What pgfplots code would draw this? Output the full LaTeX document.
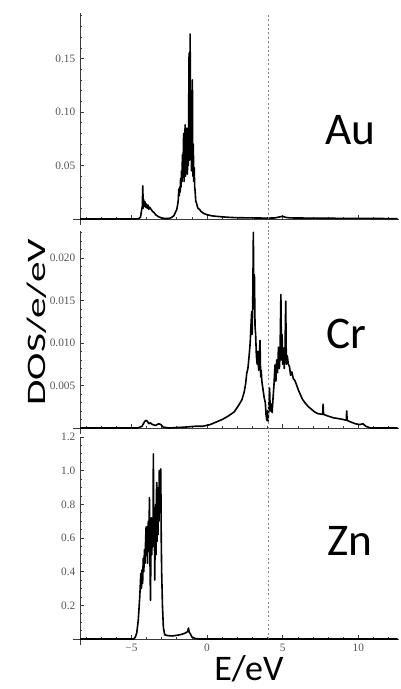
\documentclass[border=0pt]{standalone}
\usepackage{fontspec}
\setmainfont{Carlito}
\newfontfamily\tickfont{Liberation Serif}
\usepackage{graphicx}
\usepackage{pgfplots}
\pgfplotsset{compat=1.18}

\definecolor{axisgray}{HTML}{3A3A3A}
\definecolor{tickgray}{HTML}{555555}
\definecolor{fermigray}{HTML}{858585}

\pgfplotsset{
  dospanel/.style={
    scale only axis, width=239.4pt,
    xmin=-8.4, xmax=12.7, ymin=0,
    axis x line*=bottom, axis y line*=left,
    axis line style={axisgray, line width=0.6pt, -},
    x axis line style={shorten <=-5pt},
    y axis line style={shorten <=-4.5pt},
    tick align=inside, major tick length=3pt, minor tick length=1.8pt,
    tick style={axisgray, line width=0.5pt},
    xtick={-5,0,5,10}, minor xtick={-8,-7,...,12},
    scaled y ticks=false,
    tick label style={font=\tickfont\fontsize{8.5}{10}\selectfont, text=tickgray},
    clip=false,
  },
  dos/.style={black, line width=1.2pt, line join=round},
}
\tikzset{
  elem/.style={font=\fontsize{34}{34}\selectfont, inner sep=0pt},
  fermi/.style={fermigray, line width=1pt, dash pattern=on 1.4pt off 1.9pt},
}

\begin{document}
\begin{tikzpicture}
\useasboundingbox (0,0) rectangle (300pt,516.75pt);

% Au
\begin{axis}[dospanel, at={(60pt,352.5pt)}, anchor=south west, height=154.5pt,
  ymax=0.1926, xticklabels={},
  ytick={0.05,0.10,0.15}, yticklabels={0.05,0.10,0.15},
  minor ytick={0.01,0.02,0.03,0.04,0.06,0.07,0.08,0.09,0.11,0.12,0.13,0.14,0.16,0.17,0.18,0.19}]
\addplot[dos] coordinates {
(-8.4,0) (-5,0) (-4.5,0.0003) (-4.4,0.002) (-4.33,0.008) (-4.28,0.012) (-4.25,0.031)
(-4.22,0.010) (-4.19,0.018) (-4.15,0.012) (-4.1,0.016) (-4.05,0.011) (-4.0,0.014)
(-3.95,0.010) (-3.9,0.013) (-3.85,0.009) (-3.8,0.011) (-3.7,0.009) (-3.6,0.007)
(-3.5,0.006) (-3.4,0.004) (-3.3,0.003) (-3.2,0.002) (-3.0,0.001) (-2.8,0.0005)
(-2.6,0.0004) (-2.4,0.001) (-2.2,0.003) (-2.1,0.006) (-2.0,0.009) (-1.95,0.013)
(-1.9,0.018) (-1.87,0.028) (-1.84,0.022) (-1.81,0.030) (-1.78,0.025) (-1.75,0.038)
(-1.72,0.030) (-1.69,0.045) (-1.66,0.035) (-1.63,0.060) (-1.6,0.040) (-1.55,0.080)
(-1.52,0.035) (-1.48,0.070) (-1.45,0.088) (-1.42,0.040) (-1.39,0.062) (-1.36,0.045)
(-1.33,0.085) (-1.3,0.042) (-1.27,0.080) (-1.24,0.050) (-1.19,0.155) (-1.16,0.055)
(-1.12,0.173) (-1.09,0.060) (-1.06,0.110) (-1.03,0.045) (-0.97,0.130) (-0.94,0.040)
(-0.91,0.070) (-0.88,0.035) (-0.85,0.048) (-0.82,0.030) (-0.79,0.026) (-0.75,0.017)
(-0.7,0.015) (-0.65,0.012) (-0.6,0.010) (-0.5,0.009) (-0.4,0.007) (-0.3,0.006)
(-0.2,0.005) (0,0.004) (0.3,0.003) (0.6,0.0025) (1.0,0.002) (1.5,0.0015) (2.0,0.0012)
(3.0,0.001) (4.0,0.0008) (4.5,0.001) (4.8,0.002) (5.0,0.0025) (5.2,0.0015) (5.5,0.001)
(7,0.0008) (9,0.0006) (11,0.0005) (12.6,0.0003)
};
\draw[fermi] ([yshift=-10pt]axis cs:4.08,0) -- (axis cs:4.08,0.1926);
\node[elem] at (axis cs:9.45,0.0832) {Au};
\end{axis}

% Cr
\begin{axis}[dospanel, at={(60pt,195.75pt)}, anchor=south west, height=148pt,
  ymax=0.0232, xticklabels={},
  ytick={0.005,0.010,0.015,0.020}, yticklabels={0.005,0.010,0.015,0.020},
  minor ytick={0.001,0.002,0.003,0.004,0.006,0.007,0.008,0.009,0.011,0.012,0.013,0.014,0.016,0.017,0.018,0.019,0.021,0.022,0.023}]
\addplot[dos] coordinates {
(-8.4,0) (-4.6,0) (-4.3,0.0002) (-4.15,0.0007) (-4.05,0.0009) (-3.95,0.0008)
(-3.85,0.0005) (-3.75,0.0006) (-3.6,0.0004) (-3.4,0.0003) (-3.2,0.0005) (-3.05,0.0004)
(-2.9,0.0001) (-2.5,0) (-1.5,0.0001) (-0.8,0.0002) (-0.3,0.0002) (0.2,0.0004)
(0.6,0.0007) (1.0,0.001) (1.4,0.0014) (1.8,0.0019) (2.1,0.0027) (2.3,0.0033)
(2.45,0.0042) (2.55,0.0052) (2.62,0.0064) (2.7,0.0070) (2.78,0.0085) (2.85,0.0100)
(2.9,0.0120) (2.95,0.0137) (2.98,0.0110) (3.02,0.0150) (3.06,0.0230) (3.09,0.0140)
(3.13,0.0180) (3.17,0.0120) (3.21,0.0110) (3.26,0.0085) (3.31,0.0075) (3.36,0.0090)
(3.41,0.0068) (3.5,0.0103) (3.54,0.0060) (3.58,0.0068) (3.62,0.0055) (3.7,0.0045)
(3.78,0.0035) (3.85,0.0030) (3.9,0.0015) (3.95,0.0009) (3.99,0.0020) (4.03,0.0008)
(4.08,0.0025) (4.13,0.0047) (4.18,0.0020) (4.25,0.0028) (4.3,0.0018) (4.36,0.0035)
(4.42,0.0050) (4.49,0.0074) (4.55,0.0055) (4.6,0.0080) (4.66,0.0065) (4.72,0.0095)
(4.78,0.0070) (4.82,0.0085) (4.88,0.0157) (4.92,0.0080) (4.96,0.0110) (5.0,0.0075)
(5.05,0.0094) (5.1,0.0070) (5.15,0.0090) (5.2,0.0149) (5.24,0.0075) (5.3,0.0085)
(5.37,0.0075) (5.45,0.0072) (5.52,0.0062) (5.6,0.0066) (5.7,0.0058) (5.8,0.0056)
(5.93,0.0050) (6.05,0.0044) (6.15,0.0040) (6.3,0.0034) (6.5,0.0029) (6.7,0.0025)
(6.9,0.0022) (7.1,0.0019) (7.3,0.0017) (7.64,0.0016) (7.67,0.0028) (7.7,0.0016)
(8.0,0.0014) (8.35,0.0012) (8.7,0.0011) (9.0,0.0010) (9.2,0.0009) (9.23,0.0020)
(9.26,0.0009) (9.5,0.0007) (9.8,0.0005) (10.1,0.0004) (10.3,0.0005) (10.5,0.0002)
(10.8,0) (12.6,0)
};
\draw[fermi] ([yshift=-7pt]axis cs:4.08,0) -- (axis cs:4.08,0.0232);
\node[elem] at (axis cs:9.2,0.01105) {Cr};
\end{axis}

% Zn
\begin{axis}[dospanel, at={(60pt,37.5pt)}, anchor=south west, height=151.5pt,
  ymax=1.2, xticklabels={−5,0,5,10},
  ytick={0.2,0.4,0.6,0.8,1.0,1.2}, yticklabels={0.2,0.4,0.6,0.8,1.0,1.2},
  minor ytick={0.05,0.1,0.15,0.25,0.3,0.35,0.45,0.5,0.55,0.65,0.7,0.75,0.85,0.9,0.95,1.05,1.1,1.15}]
\addplot[dos] coordinates {
(-8.4,0) (-4.85,0) (-4.75,0.01) (-4.65,0.035) (-4.55,0.11) (-4.45,0.25) (-4.38,0.39)
(-4.34,0.30) (-4.3,0.41) (-4.26,0.33) (-4.22,0.48) (-4.18,0.40) (-4.14,0.53)
(-4.1,0.45) (-4.06,0.60) (-4.03,0.667) (-4.0,0.50) (-3.97,0.62) (-3.94,0.45)
(-3.91,0.66) (-3.88,0.70) (-3.85,0.52) (-3.81,0.84) (-3.78,0.50) (-3.74,0.23)
(-3.71,0.55) (-3.68,0.72) (-3.65,0.50) (-3.62,0.70) (-3.58,0.55) (-3.55,1.10)
(-3.52,0.55) (-3.49,0.78) (-3.46,0.35) (-3.43,0.60) (-3.4,0.80) (-3.37,0.50)
(-3.35,0.85) (-3.33,0.93) (-3.3,0.58) (-3.27,0.90) (-3.24,0.62) (-3.21,0.85)
(-3.18,0.70) (-3.16,1.0) (-3.13,0.75) (-3.1,0.95) (-3.06,1.01) (-3.03,0.60)
(-3.0,0.39) (-2.95,0.20) (-2.89,0.07) (-2.8,0.025) (-2.6,0.02) (-2.3,0.018)
(-2.0,0.022) (-1.8,0.025) (-1.6,0.03) (-1.45,0.035) (-1.35,0.04) (-1.28,0.045)
(-1.23,0.065) (-1.18,0.04) (-1.1,0.03) (-1.0,0.012) (-0.8,0.003) (-0.5,0) (12.6,0)
};
\draw[fermi] (axis cs:4.08,0) -- (axis cs:4.08,1.2);
\node[elem] at (axis cs:9.45,0.58) {Zn};
\end{axis}

\node[rotate=90, inner sep=0pt] at (27.4pt,275pt)
  {\scalebox{1.55}[1]{\fontsize{20}{20}\selectfont DOS/e/eV}};
\node[anchor=base, inner sep=0pt, font=\fontsize{27}{27}\selectfont] at (186.75pt,6pt) {E/eV};
\end{tikzpicture}
\end{document}
